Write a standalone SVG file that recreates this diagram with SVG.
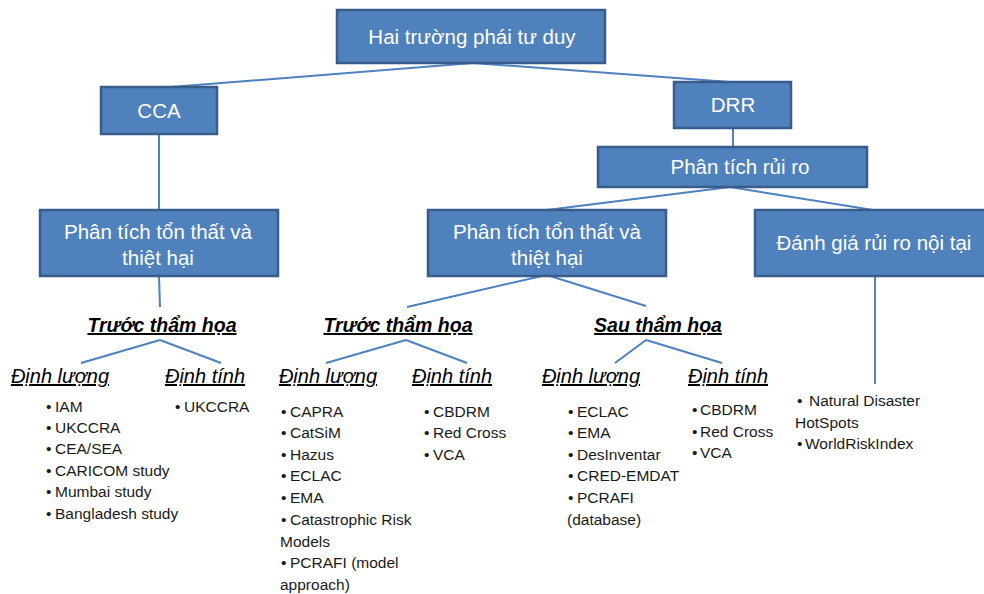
<svg xmlns="http://www.w3.org/2000/svg" width="984" height="594" viewBox="0 0 984 594">
<defs>
<style>
.box{fill:#4F81BD;stroke:#385D8A;stroke-width:2.5}
.bt{fill:#ffffff;font-family:"Liberation Sans","Noto Sans",sans-serif;font-size:20.5px;text-anchor:middle}
.hd{fill:#000;font-family:"Liberation Sans","Noto Sans",sans-serif;font-size:19.5px;font-weight:bold;font-style:italic;text-decoration:underline;text-anchor:middle}
.sh{fill:#000;font-family:"Liberation Sans","Noto Sans",sans-serif;font-size:20px;font-style:italic;text-decoration:underline;text-anchor:middle}
.li{fill:#1a1a1a;font-family:"Liberation Sans","Noto Sans",sans-serif;font-size:15.5px}
.cn{stroke:#4F81BD;stroke-width:2;fill:none}
</style>
</defs>
<g id="connectors">
<line class="cn" x1="473" y1="63" x2="158" y2="88"/>
<line class="cn" x1="473" y1="63" x2="730" y2="82"/>
<line class="cn" x1="733" y1="128" x2="733" y2="147"/>
<line class="cn" x1="159" y1="134" x2="159" y2="210"/>
<line class="cn" x1="730" y1="187" x2="547" y2="210"/>
<line class="cn" x1="730" y1="187" x2="873" y2="210"/>
<line class="cn" x1="159" y1="276" x2="160" y2="307"/>
<line class="cn" x1="542" y1="276" x2="407" y2="307"/>
<line class="cn" x1="550" y1="276" x2="646" y2="306"/>
<line class="cn" x1="875" y1="276" x2="875" y2="384"/>
<line class="cn" x1="160" y1="340" x2="81" y2="363"/>
<line class="cn" x1="160" y1="340" x2="221" y2="363"/>
<line class="cn" x1="406" y1="340" x2="326" y2="363"/>
<line class="cn" x1="406" y1="340" x2="467" y2="363"/>
<line class="cn" x1="646" y1="340" x2="615" y2="363"/>
<line class="cn" x1="646" y1="340" x2="722" y2="363"/>
</g>
<g id="root"><rect class="box" x="337" y="10" width="268" height="53"/><text class="bt" x="472" y="44">Hai trường phái tư duy</text></g>
<g id="cca"><rect class="box" x="101" y="87" width="116" height="47"/><text class="bt" x="159" y="118">CCA</text></g>
<g id="drr"><rect class="box" x="674" y="82" width="117" height="46"/><text class="bt" x="733" y="112">DRR</text></g>
<g id="risk"><rect class="box" x="598" y="147" width="269" height="40"/><text class="bt" x="740" y="174">Phân tích rủi ro</text></g>
<g id="loss-cca"><rect class="box" x="40" y="210" width="238" height="66"/><text class="bt" x="158" y="239">Phân tích tổn thất và</text><text class="bt" x="158" y="265">thiệt hại</text></g>
<g id="loss-drr"><rect class="box" x="428" y="210" width="238" height="66"/><text class="bt" x="547" y="239">Phân tích tổn thất và</text><text class="bt" x="547" y="265">thiệt hại</text></g>
<g id="intrinsic"><rect class="box" x="755" y="210" width="231" height="66"/><text class="bt" x="874" y="250">Đánh giá rủi ro nội tại</text></g>
<g id="pre-cca"><text class="hd" x="162" y="332">Trước thẩm họa</text></g>
<g id="pre-drr"><text class="hd" x="398" y="332">Trước thẩm họa</text></g>
<g id="post-drr"><text class="hd" x="658" y="332">Sau thẩm họa</text></g>
<g id="quant-cca"><text class="sh" x="60" y="383">Định lượng</text>
<text class="li" y="412"><tspan x="46">•</tspan><tspan x="55">IAM</tspan></text>
<text class="li" y="433"><tspan x="46">•</tspan><tspan x="55">UKCCRA</tspan></text>
<text class="li" y="454"><tspan x="46">•</tspan><tspan x="55">CEA/SEA</tspan></text>
<text class="li" y="476"><tspan x="46">•</tspan><tspan x="55">CARICOM study</tspan></text>
<text class="li" y="497"><tspan x="46">•</tspan><tspan x="55">Mumbai study</tspan></text>
<text class="li" y="519"><tspan x="46">•</tspan><tspan x="55">Bangladesh study</tspan></text>
</g>
<g id="qual-cca"><text class="sh" x="205" y="383">Định tính</text>
<text class="li" y="412"><tspan x="175">•</tspan><tspan x="184">UKCCRA</tspan></text>
</g>
<g id="quant-pre"><text class="sh" x="328" y="383">Định lượng</text>
<text class="li" y="417"><tspan x="281">•</tspan><tspan x="290">CAPRA</tspan></text>
<text class="li" y="438"><tspan x="281">•</tspan><tspan x="290">CatSiM</tspan></text>
<text class="li" y="460"><tspan x="281">•</tspan><tspan x="290">Hazus</tspan></text>
<text class="li" y="481"><tspan x="281">•</tspan><tspan x="290">ECLAC</tspan></text>
<text class="li" y="503"><tspan x="281">•</tspan><tspan x="290">EMA</tspan></text>
<text class="li" y="525"><tspan x="281">•</tspan><tspan x="290">Catastrophic Risk</tspan></text>
<text class="li" x="280" y="547">Models</text>
<text class="li" y="568"><tspan x="281">•</tspan><tspan x="290">PCRAFI (model</tspan></text>
<text class="li" x="280" y="590">approach)</text>
</g>
<g id="qual-pre"><text class="sh" x="452" y="383">Định tính</text>
<text class="li" y="417"><tspan x="424">•</tspan><tspan x="433">CBDRM</tspan></text>
<text class="li" y="438"><tspan x="424">•</tspan><tspan x="433">Red Cross</tspan></text>
<text class="li" y="460"><tspan x="424">•</tspan><tspan x="433">VCA</tspan></text>
</g>
<g id="quant-post"><text class="sh" x="591" y="383">Định lượng</text>
<text class="li" y="417"><tspan x="568">•</tspan><tspan x="577">ECLAC</tspan></text>
<text class="li" y="438"><tspan x="568">•</tspan><tspan x="577">EMA</tspan></text>
<text class="li" y="460"><tspan x="568">•</tspan><tspan x="577">DesInventar</tspan></text>
<text class="li" y="481"><tspan x="568">•</tspan><tspan x="577">CRED-EMDAT</tspan></text>
<text class="li" y="503"><tspan x="568">•</tspan><tspan x="577">PCRAFI</tspan></text>
<text class="li" x="567" y="525">(database)</text>
</g>
<g id="qual-post"><text class="sh" x="728" y="383">Định tính</text>
<text class="li" y="415"><tspan x="692">•</tspan><tspan x="700">CBDRM</tspan></text>
<text class="li" y="437"><tspan x="692">•</tspan><tspan x="700">Red Cross</tspan></text>
<text class="li" y="458"><tspan x="692">•</tspan><tspan x="700">VCA</tspan></text>
</g>
<g id="indices">
<text class="li" y="406"><tspan x="797">•</tspan><tspan x="809">Natural Disaster</tspan></text>
<text class="li" x="795" y="428">HotSpots</text>
<text class="li" y="449"><tspan x="797">•</tspan><tspan x="805">WorldRiskIndex</tspan></text>
</g>
</svg>
